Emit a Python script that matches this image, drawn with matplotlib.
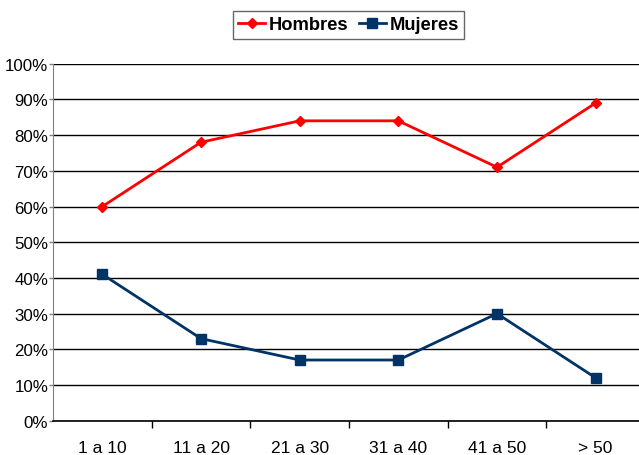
import matplotlib
matplotlib.use("Agg")
import matplotlib.pyplot as plt
from matplotlib.ticker import FuncFormatter, FixedLocator

categories = ["1 a 10", "11 a 20", "21 a 30", "31 a 40", "41 a 50", "> 50"]
hombres = [60, 78, 84, 84, 71, 89]
mujeres = [41, 23, 17, 17, 30, 12]
yticks = list(range(0, 101, 10))

plt.rcParams['font.family'] = ['Liberation Sans', 'DejaVu Sans']

fig = plt.figure(figsize=(6.39, 4.56), dpi=100)
W, H = 639, 456
left, right, top, bottom = 53, 645, 64.7, 421.7
ax = fig.add_axes([left / W, 1 - bottom / H, (right - left) / W, (bottom - top) / H])

x = list(range(len(categories)))
ax.plot(x, hombres, color="#FF0000", marker="D", markersize=5.5, lw=2, label="Hombres", zorder=3)
ax.plot(x, mujeres, color="#003366", marker="s", markersize=7, lw=2, label="Mujeres", zorder=3)

ax.set_xlim(-0.5, len(categories) - 0.5)
ax.set_ylim(0, 100)
ax.set_yticks(yticks)
ax.yaxis.set_major_formatter(FuncFormatter(lambda v, p: f"{int(v)}%"))
ax.yaxis.grid(True, color="black", lw=1)
ax.set_axisbelow(True)

ax.set_xticks(x)
ax.set_xticklabels(categories)
ax.tick_params(axis="x", which="major", length=0, pad=14, labelsize=12.5)
ax.xaxis.set_minor_locator(FixedLocator([i + 0.5 for i in range(len(categories) - 1)]))
ax.tick_params(axis="x", which="minor", length=5, width=1, color="black", direction="out")
ax.tick_params(axis="y", length=3, width=1, color="#808080", labelsize=12.2, pad=0.5)

for s in ["top", "right"]:
    ax.spines[s].set_visible(False)
ax.spines["left"].set_color("#808080")
ax.spines["bottom"].set_color("black")
ax.spines["bottom"].set_linewidth(1.2)

leg = fig.legend(loc="center", bbox_to_anchor=(348.5 / W, 1 - 26 / H), ncol=2,
                 frameon=True, fancybox=False, edgecolor="#404040",
                 prop={"weight": "bold", "size": 13.2}, handlelength=1.45,
                 handletextpad=0.2, columnspacing=0.6, borderpad=0.3,
                 borderaxespad=0)
leg.get_frame().set_linewidth(1)

fig.savefig("out.png", dpi=100)
